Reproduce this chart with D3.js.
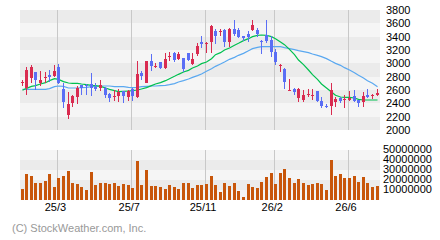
<!DOCTYPE html>
<meta charset="utf-8">
<style>
    body { margin: 0; background: #fff; }
    svg text { font-family: Arial, "Liberation Sans", sans-serif; font-size: 11px; fill: #000; }
    .copy { fill: #999; }
</style>
<svg width="440" height="240"></svg>
<script src="https://d3js.org/d3.v7.min.js"></script>
<script>

    // weekly candles, oldest first
    var opens  = [2700,2625,2775,2870,2705,2775,2820,2810,2950,2615,2225,2410,2500,2670,2680,2685,2640,2625,2625,2540,
                  2500,2515,2590,2500,2610,2490,2855,2710,3035,2950,3025,2925,3095,3150,3060,3075,3160,2985,3135,3325,
                  3300,3315,3485,3465,3500,3325,3515,3500,3410,3440,3500,3500,3340,3425,3350,3175,2960,2910,2590,2610,
                  2475,2450,2530,2520,2590,2435,2365,2360,2425,2485,2445,2450,2510,2450,2415,2525,2510,2525];
    var highs  = [2750,2950,2975,2870,2885,2875,2900,2975,2990,2700,2570,2525,2660,2680,2690,2860,2700,2750,2640,2560,
                  2600,2610,2590,2600,2625,3035,2890,3035,3140,3000,3025,3160,3165,3175,3165,3075,3160,3150,3310,3410,
                  3325,3575,3515,3515,3515,3525,3650,3525,3415,3490,3650,3525,3350,3650,3410,3210,2990,2925,2765,2625,
                  2630,2600,2610,2610,2590,2500,2385,2710,2500,2490,2525,2585,2600,2450,2565,2615,2535,2610];
    var lows   = [2660,2525,2710,2600,2660,2700,2720,2790,2690,2335,2160,2340,2390,2525,2525,2510,2580,2590,2485,2425,
                  2435,2425,2410,2435,2440,2475,2750,2700,2890,2925,2915,2915,3040,3015,3050,2875,3035,2975,3110,3225,
                  3150,3160,3285,3415,3240,3250,3410,3375,3335,3325,3490,3400,3140,3300,3100,2975,2875,2610,2585,2525,
                  2425,2425,2500,2450,2425,2325,2325,2225,2340,2400,2330,2440,2425,2350,2340,2475,2465,2510];
    var closes = [2725,2900,2950,2750,2750,2790,2800,2885,2710,2425,2390,2510,2625,2630,2660,2625,2620,2675,2525,2485,
                  2515,2575,2515,2590,2510,2840,2810,3035,2960,2965,2935,3060,3105,3050,3135,2910,3050,3065,3260,3295,
                  3310,3565,3415,3490,3325,3515,3435,3400,3385,3390,3575,3435,3330,3335,3165,3025,2975,2725,2605,2575,
                  2610,2525,2540,2530,2435,2360,2345,2600,2470,2435,2460,2485,2440,2410,2510,2490,2525,2550];
    var volumes = [11,26.3,24,17.3,17.3,19.3,26.3,13.3,22,24.3,29.3,17.3,16.3,13.3,10,28,15.3,17.3,17.3,16.3,
                   17.3,14.3,16.3,15.3,12.3,39.3,15.3,30.3,14.3,14.3,13.3,11.3,15.3,13.3,11.3,17.3,17.3,12.3,15.3,15.3,
                   16.3,24.3,15.3,8.3,17.3,14.3,17.3,9.3,3.3,16.3,13.3,12.3,18.3,23.3,27.3,16.3,27.3,31.3,22.3,17.3,
                   21.3,17.3,15.3,16.3,17.3,16.3,10.3,40.3,24.3,26.3,22.3,22.3,24.3,18.3,23.3,17.3,13.3,14.3]
                   .map(function (v) { return v * 1000000; });

    // moving averages as drawn
    var maShort = [2595,2625,2655,2665,2690,2710,2740,2770,2760,2725,2705,2700,2700,2690,2680,2670,2665,2655,2630,2610,
                   2590,2575,2580,2585,2590,2600,2615,2635,2665,2690,2710,2740,2770,2805,2835,2870,2895,2930,2960,2995,
                   3020,3070,3130,3160,3200,3230,3270,3300,3340,3370,3400,3420,3425,3420,3400,3370,3320,3280,3210,3130,
                   3050,2980,2900,2830,2760,2690,2630,2570,2520,2495,2490,2490,2480,2460,2450,2450,2450,2450];
    var maLong  = [2610,2610,2610,2610,2610,2610,2620,2650,2660,2655,2630,2630,2630,2635,2640,2650,2655,2660,2660,2660,
                   2650,2650,2650,2640,2635,2640,2650,2655,2660,2660,2665,2670,2680,2695,2720,2740,2765,2790,2815,2840,
                   2880,2920,2955,2990,3020,3060,3090,3120,3150,3190,3220,3240,3250,3250,3250,3250,3250,3235,3220,3205,
                   3190,3175,3160,3140,3120,3100,3070,3030,3000,2970,2935,2900,2860,2820,2780,2740,2700,2650];

    var xTickIndex = [8, 24, 40, 55, 71];
    var xTickLabels = ["25/3", "25/7", "25/11", "26/2", "26/6"];
    var priceTicks = [3800, 3600, 3400, 3200, 3000, 2800, 2600, 2400, 2200, 2000];
    var volumeTicks = [50000000, 40000000, 30000000, 20000000, 10000000];

    var svg = d3.select("svg"),
        plotLeft = 20, plotRight = 380,
        plotTop = 10, plotBottom = 130,
        volTop = 150, volBottom = 200;

    var x = d3.scaleBand()
        .domain(d3.range(opens.length))
        .range([19.2, 379]);
    var cx = function (i) { return Math.round(x(i) + x.bandwidth() / 2); };

    var y = d3.scaleLinear().domain([2000, 3800]).range([plotBottom, plotTop]);
    var yv = d3.scaleLinear().domain([0, 50000000]).range([volBottom, volTop]);

    // background bands
    var bands = svg.append("g").attr("shape-rendering", "crispEdges");
    for (var k = 0; k < priceTicks.length - 1; k++) {
        bands.append("rect")
            .attr("x", plotLeft).attr("width", plotRight - plotLeft)
            .attr("y", y(priceTicks[k]))
            .attr("height", y(priceTicks[k + 1]) - y(priceTicks[k]))
            .attr("fill", k % 2 === 0 ? "#ebebeb" : "#f5f5f5");
    }
    var vEdges = volumeTicks.concat([0]);
    for (var k = 0; k < vEdges.length - 1; k++) {
        bands.append("rect")
            .attr("x", plotLeft).attr("width", plotRight - plotLeft)
            .attr("y", yv(vEdges[k]))
            .attr("height", yv(vEdges[k + 1]) - yv(vEdges[k]))
            .attr("fill", k % 2 === 0 ? "#f5f5f5" : "#ebebeb");
    }

    // vertical grid
    var grid = svg.append("g").attr("stroke", "#c8c8c8").attr("shape-rendering", "crispEdges");
    xTickIndex.forEach(function (i) {
        var gx = cx(i) - 1 + 0.5;
        grid.append("line").attr("x1", gx).attr("x2", gx).attr("y1", plotTop).attr("y2", plotBottom);
        grid.append("line").attr("x1", gx).attr("x2", gx).attr("y1", volTop).attr("y2", volBottom);
    });

    // moving averages
    var line = function (arr) {
        return d3.line()
            .x(function (d, i) { return cx(i) + 0.5; })
            .y(function (d) { return y(d); })(arr);
    };
    svg.append("path").attr("d", line(maLong))
        .attr("fill", "none").attr("stroke", "#5aa8f0").attr("stroke-width", 1.2);
    svg.append("path").attr("d", line(maShort))
        .attr("fill", "none").attr("stroke", "#00c050").attr("stroke-width", 1.2);

    // candles
    var up = function (i) { return closes[i] >= opens[i]; };
    var candle = svg.append("g").attr("shape-rendering", "crispEdges")
        .selectAll("g").data(d3.range(opens.length)).enter().append("g")
        .attr("fill", function (i) { return up(i) ? "#d92b50" : "#5a6ef5"; })
        .attr("stroke", function (i) { return up(i) ? "#d92b50" : "#5a6ef5"; });

    candle.append("line")
        .attr("x1", function (i) { return cx(i) + 0.5; })
        .attr("x2", function (i) { return cx(i) + 0.5; })
        .attr("y1", function (i) { return y(highs[i]); })
        .attr("y2", function (i) { return y(lows[i]); });

    candle.append("rect")
        .attr("stroke", "none")
        .attr("x", function (i) { return cx(i) - 1; })
        .attr("width", 3)
        .attr("y", function (i) { return y(Math.max(opens[i], closes[i])); })
        .attr("height", function (i) { return Math.max(1, Math.abs(y(opens[i]) - y(closes[i]))); });

    // volume bars
    svg.append("g").attr("shape-rendering", "crispEdges")
        .selectAll("rect").data(volumes).enter().append("rect")
        .attr("x", function (d, i) { return cx(i) - 1; })
        .attr("width", 3)
        .attr("y", function (d) { return yv(d); })
        .attr("height", function (d) { return volBottom - yv(d); })
        .attr("fill", "#c8560a");

    // axes
    var ay = svg.append("g").attr("transform", "translate(" + plotRight + ",0)")
        .call(d3.axisRight(y).tickValues(priceTicks).tickSize(0).tickPadding(6).tickFormat(d3.format("d")));
    var av = svg.append("g").attr("transform", "translate(" + plotRight + ",-1)")
        .call(d3.axisRight(yv).tickValues(volumeTicks).tickSize(0).tickPadding(3).tickFormat(d3.format("d")));
    var ax = svg.append("g").attr("transform", "translate(0," + volBottom + ")")
        .call(d3.axisBottom(x).tickValues(xTickIndex).tickSize(0).tickPadding(3)
            .tickFormat(function (d, i) { return xTickLabels[i]; }));
    [ay, av, ax].forEach(function (a) {
        a.select(".domain").remove();
        a.selectAll("text").attr("font-family", null).attr("font-size", null).attr("fill", null);
    });
    ax.selectAll("text").attr("dx", -3);

    svg.append("text").attr("class", "copy")
        .attr("x", 12).attr("y", 232)
        .text("(C) StockWeather.com, Inc.");

</script>
